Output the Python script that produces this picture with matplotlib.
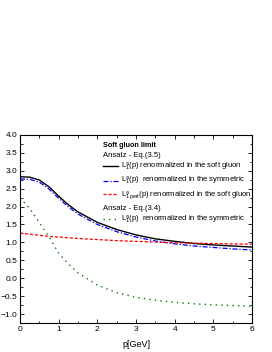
import matplotlib
matplotlib.use("Agg")
import matplotlib.pyplot as plt
from matplotlib.ticker import MultipleLocator
from matplotlib.lines import Line2D

plt.rcParams['font.family'] = ['Liberation Sans', 'DejaVu Sans']

# values
p = [0.0, 0.25, 0.5, 0.75, 1.0, 1.25, 1.5, 2.0, 2.5, 3.0, 3.5, 4.0, 4.5, 5.0, 5.5, 6.0]
soft_black = [2.83, 2.82, 2.74, 2.55, 2.29, 2.05, 1.85, 1.56, 1.36, 1.21, 1.10, 1.03, 0.97, 0.93, 0.90, 0.87]
sym_blue = [2.77, 2.76, 2.68, 2.49, 2.23, 1.99, 1.79, 1.50, 1.30, 1.15, 1.04, 0.96, 0.90, 0.86, 0.82, 0.79]
pert_red = [1.26, 1.23, 1.20, 1.17, 1.15, 1.13, 1.11, 1.08, 1.05, 1.03, 1.01, 0.99, 0.98, 0.97, 0.96, 0.95]
eq34_green = [2.24, 1.95, 1.55, 1.16, 0.70, 0.40, 0.15, -0.19, -0.40, -0.53, -0.61, -0.67, -0.71, -0.74, -0.76, -0.78]

fig = plt.figure(figsize=(2.72, 3.52), dpi=100)
ax = fig.add_axes([0.0735, 0.082, 0.853, 0.535])

ax.plot(p, soft_black, color='black', lw=1.0)
ax.plot(p, sym_blue, color='blue', lw=0.9, ls=(0, (4, 1.5, 1, 1.5)))
ax.plot(p, pert_red, color='red', lw=0.9, ls=(0, (2.5, 1.5)))
ax.plot(p, eq34_green, color='green', lw=1.0, ls=(0, (1, 3)))

ax.set_xlim(0, 6)
ax.set_ylim(-1.25, 4.0)
ax.xaxis.set_major_locator(MultipleLocator(1))
ax.xaxis.set_minor_locator(MultipleLocator(0.5))
ax.yaxis.set_major_locator(MultipleLocator(0.5))
ax.yaxis.set_minor_locator(MultipleLocator(0.25))
ax.tick_params(which='both', direction='in', top=True, right=True, labelsize=6, pad=2)
ax.tick_params(which='major', length=3, width=0.6)
ax.tick_params(which='minor', length=1.8, width=0.6)
ax.set_xticks([0, 1, 2, 3, 4, 5, 6])
ax.set_xticklabels(['0', '1', '2', '3', '4', '5', '6'])
for s in ax.spines.values():
    s.set_linewidth(0.8)
ax.set_xlabel('p[GeV]', fontsize=6.5, labelpad=5)

h_title = Line2D([], [], color='none')
h_black = Line2D([], [], color='black', lw=1.0)
h_blue = Line2D([], [], color='blue', lw=0.9, ls=(0, (4, 1.5, 1, 1.5)))
h_red = Line2D([], [], color='red', lw=0.9, ls=(0, (2.5, 1.5)))
h_green = Line2D([], [], color='green', lw=1.0, ls=(0, (1, 3)))
labels = [
    'Ansatz - Eq.(3.5)',
    r'$\mathregular{L_1^{a}}$(p) renormalized in the soft gluon',
    r'$\mathregular{L_1^{a}}$(p)  renormalized in the symmetric',
    r'$\mathregular{L_{1\,pert}^{a}}$(p) renormalized in the soft gluon',
    'Ansatz - Eq.(3.4)',
    r'$\mathregular{L_1^{a}}$(p)  renormalized in the symmetric',
]
leg = ax.legend([h_title, h_black, h_blue, h_red, h_title, h_green], labels,
                title='Soft gluon limit', title_fontproperties={'weight': 'bold', 'size': 5.2},
                fontsize=5.5, loc='upper left', bbox_to_anchor=(0.355, 0.965),
                frameon=False, handlelength=2.0, handletextpad=0.4,
                labelspacing=0.3, borderaxespad=0, borderpad=0.1)
leg._legend_box.align = 'left'
for txt, lab in zip(leg.get_texts(), labels):
    if lab.startswith('Ansatz'):
        txt.set_position((-18, 0))

fig.savefig('out.png', dpi=100)
